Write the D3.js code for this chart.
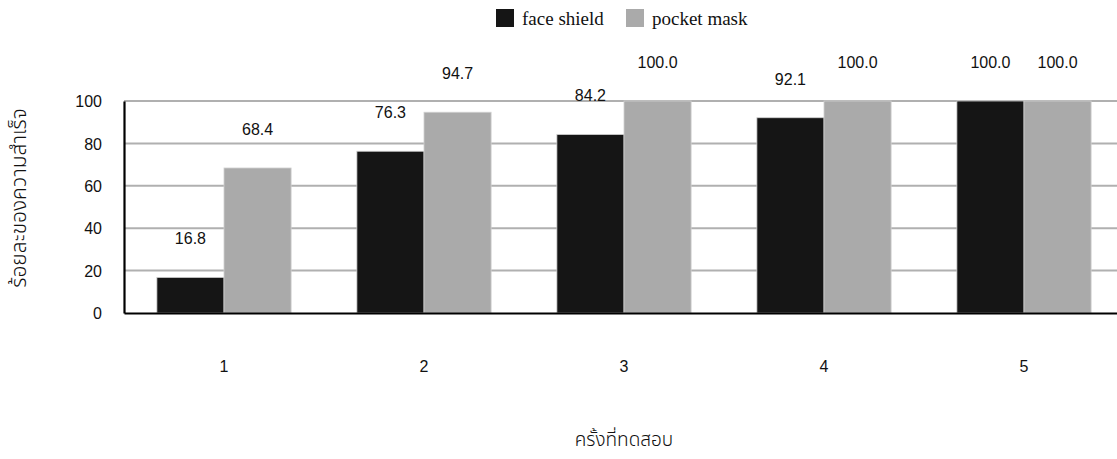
<!DOCTYPE html>
<html>
<head>
<meta charset="utf-8">
<script src="https://cdn.jsdelivr.net/npm/d3@7"></script>
<style>
  html, body { margin: 0; padding: 0; background: #fff; }
  svg { display: block; }
  .num { font-family: "Liberation Sans", "DejaVu Sans", sans-serif; font-size: 16px; fill: #111; }
  .leg { font-family: "Liberation Serif", "DejaVu Serif", serif; font-size: 19px; fill: #111; }
  .thai { font-family: "Noto Sans", "Noto Sans Thai", "DejaVu Sans", sans-serif; font-size: 19px; font-weight: 300; fill: #111; }
</style>
</head>
<body>
<svg id="chart" width="1117" height="459"></svg>
<script>
// Test rounds and success rates (%)
const categories = ["1", "2", "3", "4", "5"];
const seriesNames = ["face shield", "pocket mask"];
const faceShield = [16.8, 76.3, 84.2, 92.1, 100.0];
const pocketMask = [68.4, 94.7, 100.0, 100.0, 100.0];
const yTicks = [0, 20, 40, 60, 80, 100];
const colors = ["#151515", "#aaaaaa"];

const svg = d3.select("#chart");
const plotLeft = 124, plotRight = 1124, plotTop = 101, plotBottom = 313;

const x = d3.scaleBand().domain(categories).range([plotLeft, plotRight]).paddingInner(0).paddingOuter(0);
const x1 = d3.scaleBand().domain(seriesNames).range([0, x.bandwidth()]).paddingInner(0).paddingOuter(0.49);
const y = d3.scaleLinear().domain([0, 100]).range([plotBottom, plotTop]);

// gridlines
svg.append("g").selectAll("line").data(yTicks.filter(d => d > 0)).join("line")
  .attr("x1", plotLeft).attr("x2", plotRight)
  .attr("y1", d => y(d)).attr("y2", d => y(d))
  .attr("stroke", "#b0b0b0").attr("stroke-width", 2);

// bars
const rows = categories.map((c, i) => ({ cat: c, vals: [faceShield[i], pocketMask[i]] }));
const groups = svg.append("g").selectAll("g").data(rows).join("g")
  .attr("transform", d => `translate(${x(d.cat)},0)`);
groups.selectAll("rect").data(d => d.vals.map((v, j) => ({ v, s: seriesNames[j], j }))).join("rect")
  .attr("x", d => x1(d.s))
  .attr("width", x1.bandwidth())
  .attr("y", d => y(d.v))
  .attr("height", d => y(0) - y(d.v))
  .attr("fill", d => colors[d.j])
  .attr("stroke", "#d0d0d0").attr("stroke-width", 0.8);

// value labels
groups.selectAll("text").data(d => d.vals.map((v, j) => ({ v, s: seriesNames[j] }))).join("text")
  .attr("class", "num")
  .attr("x", d => x1(d.s) + x1.bandwidth() / 2)
  .attr("y", d => y(d.v) - 33)
  .attr("text-anchor", "middle")
  .text(d => d.v.toFixed(1));

// axes
const yAxis = d3.axisLeft(y).tickValues(yTicks).tickSize(0).tickPadding(22).tickFormat(d3.format("d"));
const gy = svg.append("g").attr("transform", `translate(${plotLeft},0)`).call(yAxis);
gy.select(".domain").attr("stroke", "#000").attr("stroke-width", 2.2);
gy.selectAll("text").attr("class", "num").attr("dy", "0.35em").style("font-size", "16px");

const xAxis = d3.axisBottom(x).tickSize(0).tickPadding(48);
const gx = svg.append("g").attr("transform", `translate(0,${plotBottom})`).call(xAxis);
gx.select(".domain").attr("stroke", "#000").attr("stroke-width", 2.2);
gx.selectAll("text").attr("class", "num").style("font-size", "16px");

// axis titles
svg.append("text").attr("class", "thai")
  .attr("x", (plotLeft + plotRight) / 2).attr("y", 446).attr("text-anchor", "middle")
  .text("ครั้งที่ทดสอบ");
svg.append("text").attr("class", "thai")
  .attr("transform", "translate(26,198) rotate(-90)")
  .attr("text-anchor", "middle")
  .style("font-size", "21px")
  .text("ร้อยละของความสำเร็จ");

// legend
const legend = svg.append("g");
const legItems = [{ name: seriesNames[0], x: 496 }, { name: seriesNames[1], x: 626 }];
legItems.forEach((it, i) => {
  legend.append("rect").attr("x", it.x).attr("y", 9).attr("width", 18).attr("height", 18).attr("fill", colors[i]);
  legend.append("text").attr("class", "leg").attr("x", it.x + 26).attr("y", 25).text(it.name);
});
</script>
</body>
</html>
